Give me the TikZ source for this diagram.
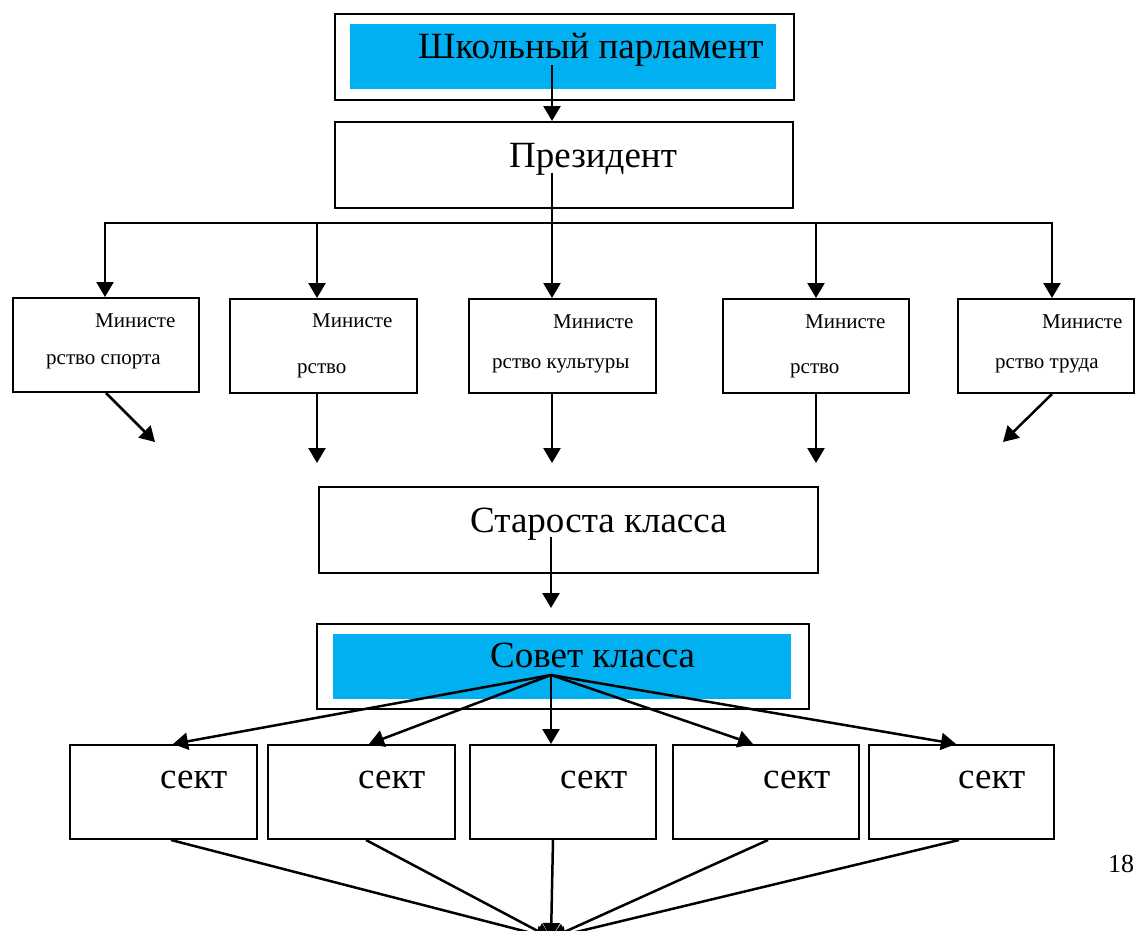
\documentclass[tikz,border=0pt]{standalone}
\usepackage{fontspec}
\setmainfont{Liberation Serif}
\usetikzlibrary{arrows.meta, positioning}
\definecolor{skyband}{HTML}{00B0F0}
\tikzstyle{box} = [rectangle, draw=black, line width=2pt, anchor=north west, inner sep=0pt]
\tikzstyle{band} = [rectangle, fill=skyband, anchor=north west, inner sep=0pt]
\tikzstyle{bigtext} = [font=\fontsize{37}{41}\selectfont, anchor=base west, inner sep=0pt]
\tikzstyle{smalltext} = [font=\fontsize{21}{25}\selectfont, anchor=base west, inner sep=0pt]
\tikzstyle{arrow} = [line width=2.5pt, -{Triangle[length=15pt, width=17pt]}]
\tikzstyle{link} = [line width=2.5pt]

\begin{document}
\begin{tikzpicture}[x=1pt, y=-1pt]
\useasboundingbox (0,0) rectangle (1135,930);

% parliament and president
\node (parlband) [band, minimum width=426pt, minimum height=65pt] at (350,24) {};
\node (parl) [box, minimum width=459pt, minimum height=86pt] at (334,13) {};
\node (parltext) [bigtext] at (418,58) {Школьный парламент};
\node (pres) [box, minimum width=458pt, minimum height=86pt] at (334,121) {};
\node (prestext) [bigtext] at (509,167) {Президент};

% ministries
\node (min1) [box, minimum width=186pt, minimum height=94pt] at (12,297) {};
\node (min2) [box, minimum width=187pt, minimum height=94pt] at (229,298) {};
\node (min3) [box, minimum width=187pt, minimum height=94pt] at (468,298) {};
\node (min4) [box, minimum width=186pt, minimum height=94pt] at (722,298) {};
\node (min5) [box, minimum width=176pt, minimum height=94pt] at (957,298) {};
\node (min1a) [smalltext] at (95,327) {Министе};
\node (min1b) [smalltext] at (46,364) {рство спорта};
\node (min2a) [smalltext] at (312,327) {Министе};
\node (min2b) [smalltext] at (297,373) {рство};
\node (min3a) [smalltext] at (553,328) {Министе};
\node (min3b) [smalltext] at (492,368) {рство культуры};
\node (min4a) [smalltext] at (805,328) {Министе};
\node (min4b) [smalltext] at (790,373) {рство};
\node (min5a) [smalltext] at (1042,328) {Министе};
\node (min5b) [smalltext] at (995,368) {рство труда};

% class head and council
\node (head) [box, minimum width=499pt, minimum height=86pt] at (318,486) {};
\node (headtext) [bigtext] at (470,532) {Староста класса};
\node (councilband) [band, minimum width=458pt, minimum height=65pt] at (333,634) {};
\node (council) [box, minimum width=492pt, minimum height=85pt] at (316,623) {};
\node (counciltext) [bigtext] at (490,667) {Совет класса};

% sections
\node (sec1) [box, minimum width=187pt, minimum height=94pt] at (69,744) {};
\node (sec2) [box, minimum width=187pt, minimum height=94pt] at (267,744) {};
\node (sec3) [box, minimum width=186pt, minimum height=94pt] at (469,744) {};
\node (sec4) [box, minimum width=186pt, minimum height=94pt] at (672,744) {};
\node (sec5) [box, minimum width=185pt, minimum height=94pt] at (868,744) {};
\node (sec1t) [bigtext] at (160,788) {сект};
\node (sec2t) [bigtext] at (358,788) {сект};
\node (sec3t) [bigtext] at (560,788) {сект};
\node (sec4t) [bigtext] at (763,788) {сект};
\node (sec5t) [bigtext] at (958,788) {сект};

\node (pagenum) [font=\fontsize{26}{30}\selectfont, anchor=base west, inner sep=0pt] at (1108,872) {18};

% connectors
\coordinate (parlout) at (552,65);
\coordinate (presout) at (552,173);
\coordinate (drop1) at (105,223);
\coordinate (drop2) at (317,223);
\coordinate (drop3) at (552,223);
\coordinate (drop4) at (816,223);
\coordinate (drop5) at (1052,223);
\coordinate (end1) at (155,442);
\coordinate (end2) at (317,463);
\coordinate (end3) at (552,463);
\coordinate (end4) at (816,463);
\coordinate (end5) at (1003,442);
\coordinate (headout) at (551,537);
\coordinate (headend) at (551,608);
\coordinate (hub) at (551,675);
\coordinate (sink) at (551,938);

\draw [arrow] (parlout) -- (parlout |- pres.north);
\draw [link] (presout) -- (drop3);
\draw [link, line cap=rect] (drop1) -- (drop5);
\draw [arrow] (drop1) -- (drop1 |- min1.north);
\draw [arrow] (drop2) -- (drop2 |- min2.north);
\draw [arrow] (drop3) -- (drop3 |- min3.north);
\draw [arrow] (drop4) -- (drop4 |- min4.north);
\draw [arrow] (drop5) -- (drop5 |- min5.north);

\draw [arrow] (min1.south) -- (end1);
\draw [arrow] (end2 |- min2.south) -- (end2);
\draw [arrow] (end3 |- min3.south) -- (end3);
\draw [arrow] (end4 |- min4.south) -- (end4);
\draw [arrow] (drop5 |- min5.south) -- (end5);

\draw [arrow] (headout) -- (headend);

\draw [arrow] (hub) -- ([xshift=9.5pt]sec1.north);
\draw [arrow] (hub) -- ([xshift=7.5pt]sec2.north);
\draw [arrow] (hub) -- (hub |- sec3.north);
\draw [arrow] (hub) -- ([xshift=-13pt]sec4.north);
\draw [arrow] (hub) -- ([xshift=-5.5pt]sec5.north);

\draw [arrow] ([xshift=7.5pt]sec1.south) -- (sink);
\draw [arrow] ([xshift=4.5pt]sec2.south) -- (sink);
\draw [arrow] ([xshift=-10pt]sec3.south) -- (sink);
\draw [arrow] ([xshift=2pt]sec4.south) -- (sink);
\draw [arrow] ([xshift=-2.5pt]sec5.south) -- (sink);

\end{tikzpicture}
\end{document}
